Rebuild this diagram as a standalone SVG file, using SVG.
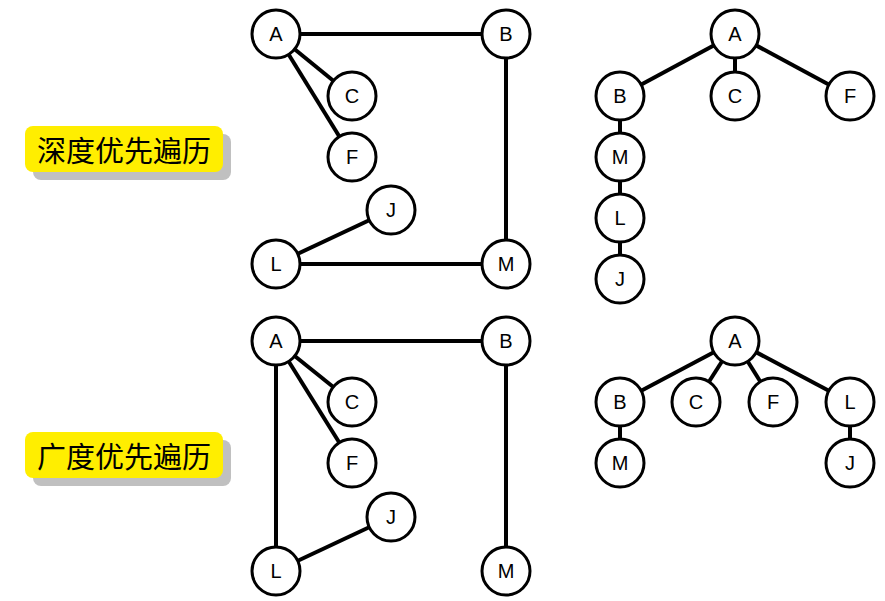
<svg xmlns="http://www.w3.org/2000/svg" width="885" height="601" viewBox="0 0 885 601">
<style>
.n circle{fill:#fff;stroke:#000;stroke-width:3}
.n text{font-family:"Liberation Sans",Arial,sans-serif;font-size:20px;fill:#000;text-anchor:middle;dominant-baseline:central}
#edges line{stroke:#000;stroke-width:4}
.lab text{font-family:"Noto Sans CJK SC",sans-serif;font-size:29px;fill:#000;text-anchor:middle;dominant-baseline:central}
.lab .sh{fill:#c0c0c0}
.lab .bx{fill:#ffee00}
</style>
<rect width="885" height="601" fill="#fff"/>
<g id="labels">
<g id="label-dfs" class="lab"><rect class="sh" x="33" y="134" width="198" height="46" rx="8"/><rect class="bx" x="25" y="126" width="198" height="46" rx="8"/><text x="124" y="149">深度优先遍历</text></g>
<g id="label-bfs" class="lab"><rect class="sh" x="33" y="440" width="198" height="46" rx="8"/><rect class="bx" x="25" y="432" width="198" height="46" rx="8"/><text x="124" y="455">广度优先遍历</text></g>
</g>
<g id="edges">
<line x1="276" y1="34" x2="506" y2="34"/>
<line x1="276" y1="34" x2="352" y2="96"/>
<line x1="276" y1="34" x2="352" y2="157"/>
<line x1="506" y1="34" x2="506" y2="264"/>
<line x1="276" y1="264" x2="506" y2="264"/>
<line x1="276" y1="264" x2="391" y2="210"/>
<line x1="735" y1="34" x2="620" y2="96"/>
<line x1="735" y1="34" x2="735" y2="96"/>
<line x1="735" y1="34" x2="850" y2="96"/>
<line x1="620" y1="96" x2="620" y2="279"/>
<line x1="276" y1="341" x2="506" y2="341"/>
<line x1="276" y1="341" x2="352" y2="402"/>
<line x1="276" y1="341" x2="352" y2="463"/>
<line x1="276" y1="341" x2="276" y2="571"/>
<line x1="506" y1="341" x2="506" y2="571"/>
<line x1="276" y1="571" x2="391" y2="517"/>
<line x1="735" y1="341" x2="620" y2="402"/>
<line x1="735" y1="341" x2="696" y2="402"/>
<line x1="735" y1="341" x2="773" y2="402"/>
<line x1="735" y1="341" x2="850" y2="402"/>
<line x1="620" y1="402" x2="620" y2="463"/>
<line x1="850" y1="402" x2="850" y2="463"/>
</g>
<g id="g1-A" class="n"><circle cx="276" cy="34" r="24"/><text x="276" y="34">A</text></g>
<g id="g1-B" class="n"><circle cx="506" cy="34" r="24"/><text x="506" y="34">B</text></g>
<g id="g1-C" class="n"><circle cx="352" cy="96" r="24"/><text x="352" y="96">C</text></g>
<g id="g1-F" class="n"><circle cx="352" cy="157" r="24"/><text x="352" y="157">F</text></g>
<g id="g1-J" class="n"><circle cx="391" cy="210" r="24"/><text x="391" y="210">J</text></g>
<g id="g1-L" class="n"><circle cx="276" cy="264" r="24"/><text x="276" y="264">L</text></g>
<g id="g1-M" class="n"><circle cx="506" cy="264" r="24"/><text x="506" y="264">M</text></g>
<g id="t1-A" class="n"><circle cx="735" cy="34" r="24"/><text x="735" y="34">A</text></g>
<g id="t1-B" class="n"><circle cx="620" cy="96" r="24"/><text x="620" y="96">B</text></g>
<g id="t1-C" class="n"><circle cx="735" cy="96" r="24"/><text x="735" y="96">C</text></g>
<g id="t1-F" class="n"><circle cx="850" cy="96" r="24"/><text x="850" y="96">F</text></g>
<g id="t1-M" class="n"><circle cx="620" cy="157" r="24"/><text x="620" y="157">M</text></g>
<g id="t1-L" class="n"><circle cx="620" cy="218" r="24"/><text x="620" y="218">L</text></g>
<g id="t1-J" class="n"><circle cx="620" cy="279" r="24"/><text x="620" y="279">J</text></g>
<g id="g2-A" class="n"><circle cx="276" cy="341" r="24"/><text x="276" y="341">A</text></g>
<g id="g2-B" class="n"><circle cx="506" cy="341" r="24"/><text x="506" y="341">B</text></g>
<g id="g2-C" class="n"><circle cx="352" cy="402" r="24"/><text x="352" y="402">C</text></g>
<g id="g2-F" class="n"><circle cx="352" cy="463" r="24"/><text x="352" y="463">F</text></g>
<g id="g2-J" class="n"><circle cx="391" cy="517" r="24"/><text x="391" y="517">J</text></g>
<g id="g2-L" class="n"><circle cx="276" cy="571" r="24"/><text x="276" y="571">L</text></g>
<g id="g2-M" class="n"><circle cx="506" cy="571" r="24"/><text x="506" y="571">M</text></g>
<g id="t2-A" class="n"><circle cx="735" cy="341" r="24"/><text x="735" y="341">A</text></g>
<g id="t2-B" class="n"><circle cx="620" cy="402" r="24"/><text x="620" y="402">B</text></g>
<g id="t2-C" class="n"><circle cx="696" cy="402" r="24"/><text x="696" y="402">C</text></g>
<g id="t2-F" class="n"><circle cx="773" cy="402" r="24"/><text x="773" y="402">F</text></g>
<g id="t2-L" class="n"><circle cx="850" cy="402" r="24"/><text x="850" y="402">L</text></g>
<g id="t2-M" class="n"><circle cx="620" cy="463" r="24"/><text x="620" y="463">M</text></g>
<g id="t2-J" class="n"><circle cx="850" cy="463" r="24"/><text x="850" y="463">J</text></g>
</svg>
